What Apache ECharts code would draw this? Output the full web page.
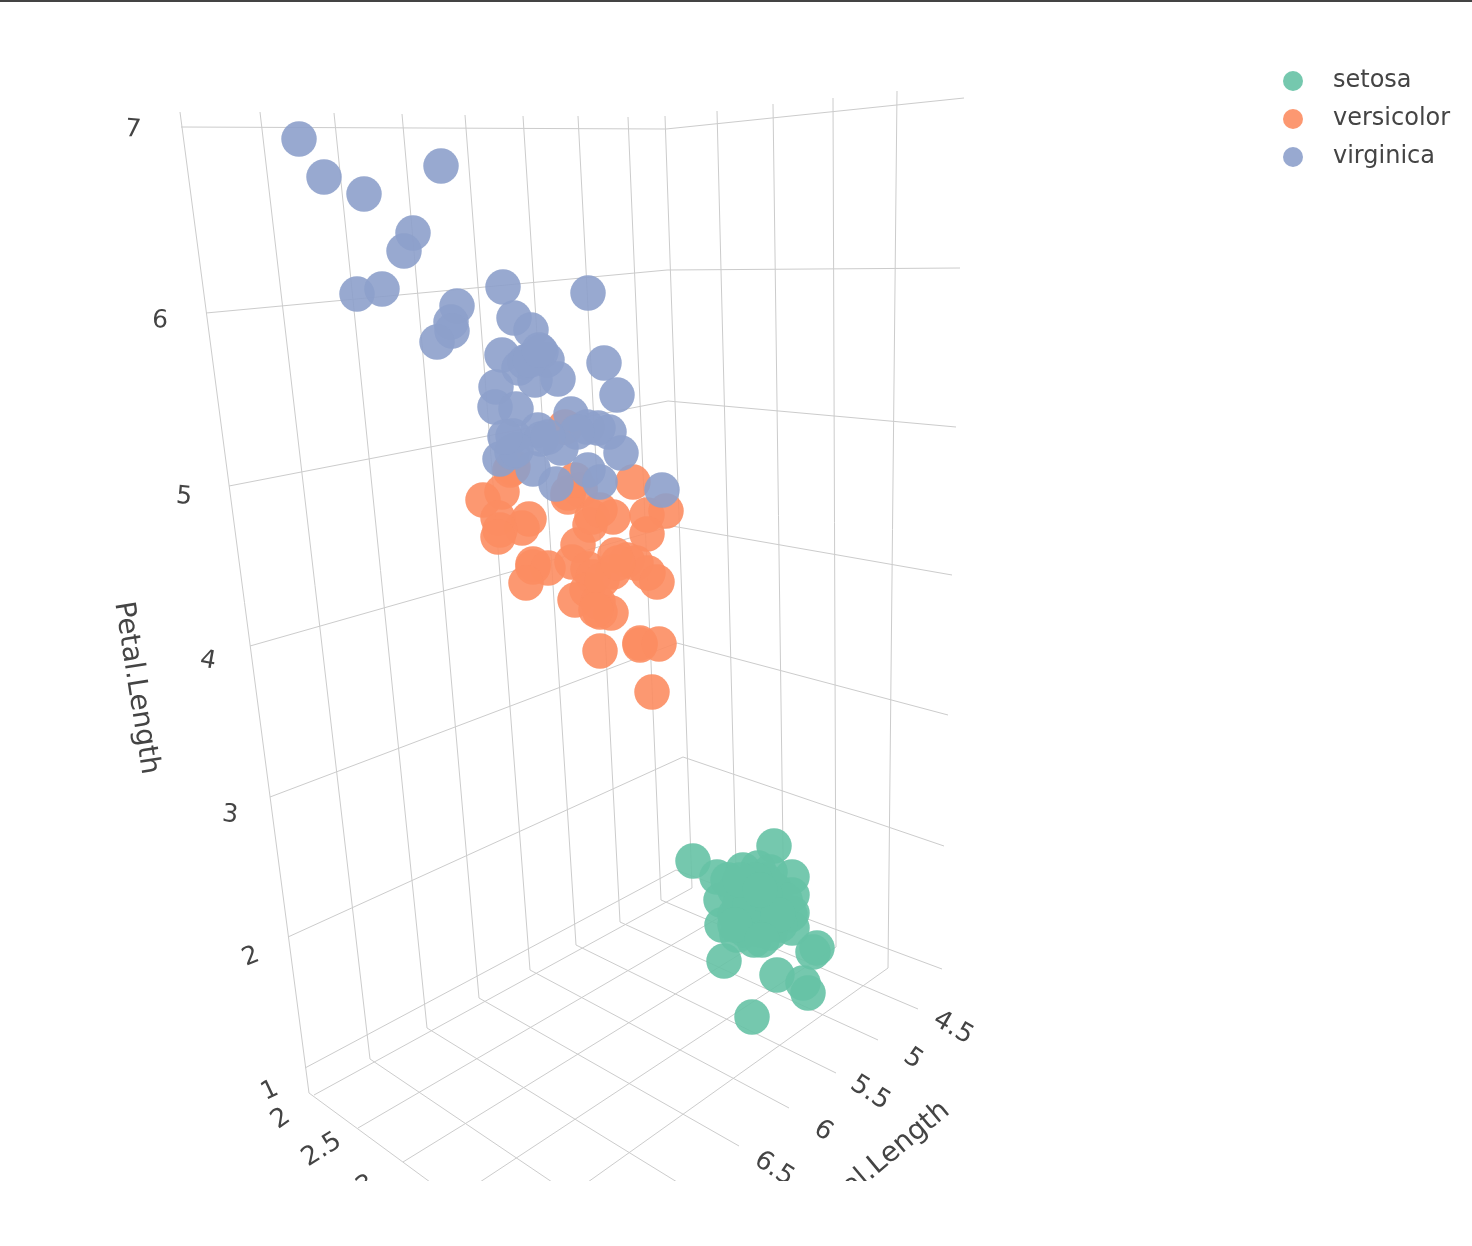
<!DOCTYPE html>
<html>
<head>
<meta charset="utf-8">
<style>html,body{margin:0;padding:0;background:#fff}#c{width:1472px;height:1246px}</style>
<script src="https://cdn.jsdelivr.net/npm/echarts@6/dist/echarts.min.js"></script>
</head>
<body>
<div id="c"></div>
<script>
// Points (the 3D view's projected position of each flower)
const setosa = [[693,861],[774,846],[717,877],[792,877],[721,900],[722,925],[724,961],[777,975],[752,1017],[803,983],[808,993],[817,948],[813,952],[743,870],[758,868],[792,913],[792,895],[792,928],[754,940],[737,935],[770,933],[750,885],[765,880],[775,890],[735,890],[745,900],[760,900],[775,905],[790,915],[735,915],[750,915],[765,915],[780,925],[745,930],[760,930],[728,880],[785,900],[770,872],[755,880],[740,905],[755,925],[770,920],[750,905],[765,895],[778,915],[740,880],[760,890],[735,925],[762,940]];
const versicolor = [[483,500],[502,492],[498,518],[529,519],[522,528],[500,530],[498,537],[513,467],[533,564],[533,567],[548,568],[526,583],[578,545],[572,562],[588,569],[590,525],[592,517],[568,497],[580,490],[600,510],[613,517],[633,482],[647,515],[666,511],[647,534],[615,555],[627,560],[636,563],[613,572],[648,573],[657,582],[593,577],[587,590],[575,600],[598,602],[600,612],[611,613],[600,651],[640,643],[640,645],[659,644],[652,692],[602,580],[618,563],[596,610],[565,427],[568,493],[512,468],[575,480],[510,470]];
const virginica = [[299,139],[324,177],[364,194],[441,166],[413,233],[404,251],[357,294],[382,289],[457,306],[451,322],[452,331],[437,342],[503,287],[514,318],[531,330],[502,355],[588,293],[541,352],[547,360],[525,362],[519,368],[535,380],[558,379],[604,363],[617,395],[496,387],[495,407],[516,409],[571,414],[538,430],[513,436],[541,439],[587,427],[598,428],[609,432],[621,453],[500,459],[512,452],[533,469],[561,448],[588,470],[600,482],[556,484],[662,490],[516,450],[577,432],[505,437],[530,360],[539,350],[548,437]];

// Gridlines of the 3D box
const leftWallVerticals = [[[180,112],[309,1093]],[[260,112],[370,1059]],[[334,113],[427,1028]],[[402,114],[479,998]],[[465,115],[530,970]],[[523,116],[576,945]],[[578,116],[620,922]],[[628,117],[661,900]]];
const rightWallVerticals = [[[665,116],[692,888]],[[717,111],[737,907]],[[773,104],[784,927]],[[833,98],[836,947]],[[897,91],[888,968]]];
const heightLines = [[[181,127],[666,129],[964,98]],[[206,313],[667,270],[960,268]],[[229,486],[668,401],[956,427]],[[250,646],[672,526],[952,575]],[[270,797],[677,643],[948,715]],[[288,937],[683,757],[944,846]],[[305,1068],[676,870],[942,969]]];
const lengthLines = [[[661,900],[918,1009]],[[620,922],[878,1040]],[[576,945],[836,1073]],[[530,970],[789,1108]],[[479,998],[739,1146]],[[427,1028],[677,1182]],[[370,1059],[552,1182]],[[309,1093],[430,1182]]];
const widthLines = [[[314,1095],[692,888]],[[358,1128],[737,907]],[[403,1162],[784,927]],[[480,1182],[836,947]],[[588,1182],[888,968]]];
const topBorder = [[[0,1],[1472,1]]];

// Tick labels
const zTicks = ['7','6','5','4','3','2','1'];
const zTickPos = [[133,130],[160,321],[184,497],[208,661],[230,815],[251,957],[270,1091]];
const zTickRot = [-5,-3,-5,-10,-6,22,25];
const yTicks = ['2','2.5','3'];
const yTickPos = [[281,1119],[322,1150],[366,1186]];
const yTickRot = [35,32,32];
const xTicks = ['4.5','5','5.5','6','6.5'];
const xTickPos = [[953,1028],[913,1059],[870,1093],[823,1131],[774,1169]];
const xTickRot = [-30,-35,-33,-33,-33];
const titles = ['Petal.Length','Sepal.Length'];
const titlePos = [[136,688],[876,1166]];
const titleRot = [-81,40];

const FONT = '"DejaVu Sans", Verdana, sans-serif';
const INK = '#444444';

function grid(lines, color, width){
  return {type:'lines', coordinateSystem:'cartesian2d', polyline:true, silent:true, z:1,
    lineStyle:{color:color||'#cccccc', width:width||1, opacity:1},
    data:lines.map(l=>({coords:l}))};
}
function texts(labels, pos, rot, size){
  return {type:'scatter', symbol:'circle', symbolSize:1, silent:true, z:3,
    itemStyle:{color:'rgba(0,0,0,0)', opacity:1},
    data:labels.map((t,i)=>({value:pos[i],
      label:{show:true, position:'inside', formatter:t, rotate:rot[i], fontSize:size, color:INK, opacity:1, fontFamily:FONT, align:'center', verticalAlign:'middle'}}))};
}
function points(name, data, color){
  return {name, type:'scatter', data, symbol:'circle', symbolSize:35.5, z:2,
    itemStyle:{color, opacity:0.9}};
}

const chart = echarts.init(document.getElementById('c'), null, {renderer:'canvas'});
chart.setOption({
  animation:false,
  backgroundColor:'#ffffff',
  grid:{left:0,right:0,top:0,bottom:0},
  xAxis:{type:'value',min:0,max:1472,show:false},
  yAxis:{type:'value',min:0,max:1246,inverse:true,show:false},
  legend:{
    data:['setosa','versicolor','virginica'], left:1283, top:69, orient:'vertical', padding:0,
    icon:'circle', itemWidth:20, itemHeight:20, itemGap:14,
    textStyle:{fontFamily:FONT,fontSize:24,color:INK,padding:[12,0,0,25]},
    selectedMode:false
  },
  graphic:[{type:'rect',z:1000,silent:true,shape:{x:0,y:1181,width:1472,height:65},style:{fill:'#ffffff'}}],
  series:[
    grid(leftWallVerticals), grid(rightWallVerticals), grid(heightLines), grid(lengthLines), grid(widthLines),
    grid(topBorder, INK, 2),
    points('setosa', setosa, '#66c2a5'),
    points('versicolor', versicolor, '#fc8d62'),
    points('virginica', virginica, '#8da0cb'),
    texts(zTicks, zTickPos, zTickRot, 25),
    texts(yTicks, yTickPos, yTickRot, 26),
    texts(xTicks, xTickPos, xTickRot, 26),
    texts(titles, titlePos, titleRot, 28)
  ]
});
</script>
</body>
</html>
